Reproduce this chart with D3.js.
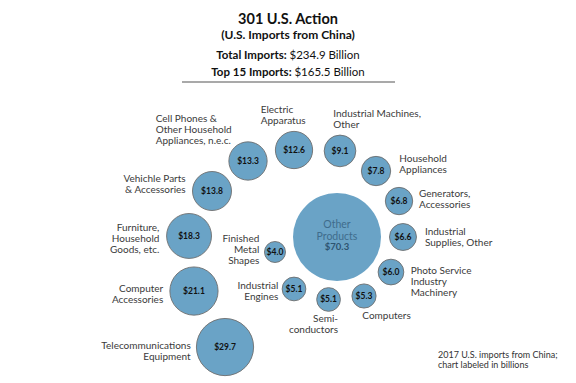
<!DOCTYPE html>
<html>
<head>
<meta charset="utf-8">
<script src="https://cdn.jsdelivr.net/npm/d3@7"></script>
<style>
  html, body { margin: 0; padding: 0; background: #fff; }
  svg { display: block; font-family: Lato, "Noto Sans", sans-serif; }
</style>
</head>
<body>
<svg id="chart" width="576" height="383"></svg>
<script>
// ---------------- DATA ----------------
const categories = [
  "Finished Metal Shapes", "Industrial Engines", "Semiconductors", "Computers",
  "Photo Service Industry Machinery", "Industrial Supplies, Other", "Generators, Accessories",
  "Household Appliances", "Industrial Machines, Other", "Electric Apparatus",
  "Cell Phones & Other Household Appliances, n.e.c.", "Vehichle Parts & Accessories",
  "Furniture, Household Goods, etc.", "Computer Accessories", "Telecommunications Equipment"
];
const labelLines = [
  ["Finished", "Metal", "Shapes"], ["Industrial", "Engines"], ["Semi-", "conductors"], ["Computers"],
  ["Photo Service", "Industry", "Machinery"], ["Industrial", "Supplies, Other"], ["Generators,", "Accessories"],
  ["Household", "Appliances"], ["Industrial Machines,", "Other"], ["Electric", "Apparatus"],
  ["Cell Phones &", "Other Household", "Appliances, n.e.c."], ["Vehichle Parts", "& Accessories"],
  ["Furniture,", "Household", "Goods, etc."], ["Computer", "Accessories"], ["Telecommunications", "Equipment"]
];
const values = [4.0, 5.1, 5.1, 5.3, 6.0, 6.6, 6.8, 7.8, 9.1, 12.6, 13.3, 13.8, 18.3, 21.1, 29.7];
const otherLabel = ["Other", "Products"];
const otherValue = 70.3;
const totalImports = 234.9;
const top15Imports = 165.5;
const titleText = "301 U.S. Action";
const subtitleText = "(U.S. Imports from China)";
const noteLines = ["2017 U.S. imports from China;", "chart labeled in billions"];

// ---------------- LAYOUT (spiral around the "Other" bubble) ----------------
const spiralAngle = [166.4, 129.6, 97.7, 65.4, 33, 0, -30.1, -59.4, -88, -116.3, -139.5, -159.8, -179.6, -200.7, -224.5];
const spiralGap   = [9.3, 11.6, 7.2, 8.8, 7.5, 8.5, 14, 18, 26.3, 34.4, 53.9, 69.7, 81.5, 84.8, 84.4];
// label placement relative to bubble centre: [anchor, dx, dy of first baseline]
const labelPlace = [
  ["end", -15.7, -10.3], ["end", -15.7, 0], ["end", 9.5, 22.4], ["start", -1.7, 23],
  ["start", 19.7, 2], ["start", 22, -2], ["start", 20, -3.7],
  ["start", 23.3, -9.3], ["start", -6.7, -33.7], ["start", -33.3, -36.7],
  ["start", -92.3, -39.3], ["end", -26.3, -8.7],
  ["end", -29.7, -5], ["end", -30.7, 0.7], ["end", -34.3, 2]
];
const lineHeight = 11;

const svg = d3.select("#chart");
const center = { x: 337, y: 237 };
const rScale = d3.scaleSqrt().domain([0, otherValue]).range([0, 44]);
const fmt = v => "$" + d3.format(".1f")(v);
const fill = "#6aa3c6";

// ---------------- HEADER ----------------
const hx = 288;
svg.append("text").attr("x", hx).attr("y", 24).attr("text-anchor", "middle")
  .attr("font-weight", 700).attr("font-size", 14.5).attr("fill", "#111").text(titleText);
svg.append("text").attr("x", hx).attr("y", 38.5).attr("text-anchor", "middle")
  .attr("font-weight", 700).attr("font-size", 12).attr("fill", "#111").text(subtitleText);
const t1 = svg.append("text").attr("x", hx).attr("y", 58.5).attr("text-anchor", "middle")
  .attr("font-size", 11.5).attr("fill", "#111");
t1.append("tspan").attr("font-weight", 700).text("Total Imports: ");
t1.append("tspan").text(fmt(totalImports) + " Billion");
const t2 = svg.append("text").attr("x", hx).attr("y", 75.5).attr("text-anchor", "middle")
  .attr("font-size", 11.5).attr("fill", "#111");
t2.append("tspan").attr("font-weight", 700).text("Top 15 Imports: ");
t2.append("tspan").text(fmt(top15Imports) + " Billion");
svg.append("line").attr("x1", 182).attr("x2", 395).attr("y1", 82).attr("y2", 82)
  .attr("stroke", "#555").attr("stroke-width", 1.2);

// ---------------- BUBBLES ----------------
const nodes = values.map((v, i) => {
  const r = rScale(v);
  const d = rScale(otherValue) + spiralGap[i] + r;
  const a = spiralAngle[i] * Math.PI / 180;
  return { name: categories[i], v, r, x: center.x + d * Math.cos(a), y: center.y + d * Math.sin(a),
           lines: labelLines[i], place: labelPlace[i] };
});

// big "Other" bubble
svg.append("circle").attr("cx", center.x).attr("cy", center.y).attr("r", rScale(otherValue))
  .attr("fill", fill);
const ot = svg.append("text").attr("text-anchor", "middle").attr("font-size", 10.5).attr("fill", "#3f6c8c");
otherLabel.forEach((s, k) => ot.append("tspan").attr("x", center.x).attr("y", center.y - 9 + k * 11.5).text(s));
svg.append("text").attr("x", center.x).attr("y", center.y + 13).attr("text-anchor", "middle")
  .attr("font-size", 9.5).attr("font-weight", 700).attr("fill", "#2e5470").text(fmt(otherValue));

const g = svg.append("g");
const bub = g.selectAll("g.b").data(nodes).join("g").attr("class", "b");
bub.append("circle").attr("cx", d => d.x).attr("cy", d => d.y).attr("r", d => d.r)
  .attr("fill", fill).attr("stroke", "#6e6e6e").attr("stroke-width", 0.9);
bub.append("text").attr("x", d => d.x).attr("y", d => d.y + 3).attr("text-anchor", "middle")
  .attr("font-size", 8.5).attr("font-weight", 700).attr("fill", "#111").text(d => fmt(d.v));

const lab = bub.append("text").attr("font-size", 10).attr("fill", "#3a3a3a")
  .attr("text-anchor", d => d.place[0]);
lab.selectAll("tspan").data(d => d.lines.map((s, k) => ({ s, k, d }))).join("tspan")
  .attr("x", o => o.d.x + o.d.place[1])
  .attr("y", o => o.d.y + o.d.place[2] + o.k * lineHeight)
  .text(o => o.s);

// ---------------- NOTE ----------------
const note = svg.append("text").attr("font-size", 9).attr("fill", "#333");
noteLines.forEach((s, k) => note.append("tspan").attr("x", 438).attr("y", 357.5 + k * 10).text(s));
</script>
</body>
</html>
